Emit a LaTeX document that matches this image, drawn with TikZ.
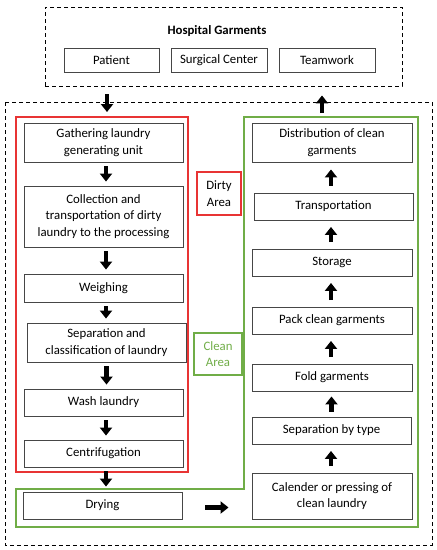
\documentclass[tikz,border=0pt]{standalone}
\usepackage{fontspec}
\setmainfont{Carlito}
\usepackage{tikz}
\usetikzlibrary{arrows.meta}
\definecolor{dirtyred}{RGB}{232,52,52}
\definecolor{cleangreen}{RGB}{112,173,71}
\definecolor{boxgray}{RGB}{70,70,70}
\tikzstyle{stepbox} = [rectangle, draw=boxgray, line width=0.9pt, inner sep=0pt, align=center, font=\fontsize{12.8}{16.5}\selectfont]
\tikzstyle{areabox} = [rectangle, line width=1.1pt, inner sep=0pt, align=center, font=\fontsize{12.8}{16.5}\selectfont]
\tikzstyle{frame} = [draw=black, line width=0.9pt, dash pattern=on 4pt off 3pt]
\tikzstyle{blockarrow} = [line width=4.5pt, -{Triangle[length=8pt,width=12pt]}]

\begin{document}
\begin{tikzpicture}[x=1pt, y=-1pt]
  \useasboundingbox (0,0) rectangle (437,550);

  % frames
  \node (hospframe) [frame, minimum width=357pt, minimum height=79pt] at (223.5,46.5) {};
  \draw [frame] (5,102) rectangle (432,545);
  \draw [dirtyred, line width=1.2pt] (16,117) rectangle (188,472);
  \draw [cleangreen, line width=1.2pt] (16,489) -- (244,489) -- (244,117) -- (418,117) -- (418,527) -- (16,527) -- cycle;

  % top part
  \node (title) [font=\fontsize{12.8}{16.5}\selectfont\bfseries] at (217,31) {Hospital Garments};
  \node (patient) [stepbox, minimum width=95pt, minimum height=24pt] at (111.5,60) {Patient};
  \node (surgical) [stepbox, minimum width=96pt, minimum height=24pt] at (219,60) {Surgical Center};
  \node (teamwork) [stepbox, minimum width=96pt, minimum height=24pt] at (327,60) {Teamwork};

  % dirty area
  \node (gather) [stepbox, minimum width=159pt, minimum height=39pt] at (103.5,142.5) {Gathering laundry\\generating unit};
  \node (collect) [stepbox, minimum width=159pt, minimum height=61pt] at (103.5,216.5) {Collection and\\transportation of dirty\\laundry to the processing};
  \node (weigh) [stepbox, minimum width=159pt, minimum height=28pt] at (103.5,288) {Weighing};
  \node (separ) [stepbox, minimum width=159pt, minimum height=39pt] at (106.5,342.5) {Separation and\\classification of laundry};
  \node (wash) [stepbox, minimum width=159pt, minimum height=27pt] at (103.5,402.5) {Wash laundry};
  \node (centri) [stepbox, minimum width=159pt, minimum height=27pt] at (103.5,453.5) {Centrifugation};
  \node (dry) [stepbox, minimum width=159pt, minimum height=27pt] at (102.5,505.5) {Drying};

  % clean area
  \node (distrib) [stepbox, minimum width=160pt, minimum height=39pt] at (332,142.5) {Distribution of clean\\garments};
  \node (transp) [stepbox, minimum width=159pt, minimum height=27pt] at (333.5,206.5) {Transportation};
  \node (storage) [stepbox, minimum width=160pt, minimum height=27pt] at (332,262.5) {Storage};
  \node (pack) [stepbox, minimum width=160pt, minimum height=27pt] at (332,320.5) {Pack clean garments};
  \node (fold) [stepbox, minimum width=160pt, minimum height=27pt] at (332,377.5) {Fold garments};
  \node (septype) [stepbox, minimum width=159pt, minimum height=27pt] at (331.5,430.5) {Separation by type};
  \node (calender) [stepbox, minimum width=160pt, minimum height=46pt] at (332,496) {Calender or pressing of\\clean laundry};

  % area labels
  \node (dirtylabel) [areabox, draw=dirtyred, minimum width=44pt, minimum height=43pt] at (219,193.5) {Dirty\\Area};
  \node (cleanlabel) [areabox, draw=cleangreen, text=cleangreen, minimum width=48pt, minimum height=42pt] at (218,354) {Clean\\Area};

  \coordinate (dirtytop) at (107,117);
  \coordinate (cleantop) at (322,117);

  \draw [blockarrow, shorten <=8pt, shorten >=5pt] (hospframe.south -| dirtytop) -- (dirtytop);
  \draw [blockarrow, shorten <=4pt, shorten >=9pt] (cleantop) -- (hospframe.south -| cleantop);

  \draw [blockarrow, shorten <=4pt, shorten >=4pt] ([xshift=2.5pt]gather.south) -- ([xshift=2.5pt]gather.south |- collect.north);
  \draw [blockarrow, shorten <=4pt, shorten >=4pt] ([xshift=2.5pt]collect.south) -- ([xshift=2.5pt]collect.south |- weigh.north);
  \draw [blockarrow, shorten <=4pt, shorten >=4pt] ([xshift=2.5pt]weigh.south) -- ([xshift=2.5pt]weigh.south |- separ.north);
  \draw [blockarrow, shorten <=4pt, shorten >=4pt] (separ.south) -- (separ.south |- wash.north);
  \draw [blockarrow, shorten <=4pt, shorten >=4pt] ([xshift=2.5pt]wash.south) -- ([xshift=2.5pt]wash.south |- centri.north);
  \draw [blockarrow, shorten <=4pt, shorten >=5pt] ([xshift=2.5pt]centri.south) -- ([xshift=2.5pt]centri.south |- dry.north);
  \draw [blockarrow, shorten <=23pt, shorten >=23pt] ([yshift=-2pt]dry.east) -- ([yshift=-2pt]dry.east -| calender.west);

  \draw [blockarrow, shorten <=6.5pt, shorten >=6.5pt] ([xshift=-1pt]calender.north) -- ([xshift=-1pt]calender.north |- septype.south);
  \draw [blockarrow, shorten <=5pt, shorten >=5pt] (septype.north) -- (septype.north |- fold.south);
  \draw [blockarrow, shorten <=6.5pt, shorten >=6.5pt] ([xshift=-1pt]fold.north) -- ([xshift=-1pt]fold.north |- pack.south);
  \draw [blockarrow, shorten <=6.5pt, shorten >=6.5pt] ([xshift=-1pt]pack.north) -- ([xshift=-1pt]pack.north |- storage.south);
  \draw [blockarrow, shorten <=6.5pt, shorten >=6.5pt] ([xshift=-1pt]storage.north) -- ([xshift=-1pt]storage.north |- transp.south);
  \draw [blockarrow, shorten <=7pt, shorten >=7pt] ([xshift=-1pt]transp.north -| distrib) -- ([xshift=-1pt]distrib.south);
\end{tikzpicture}
\end{document}
